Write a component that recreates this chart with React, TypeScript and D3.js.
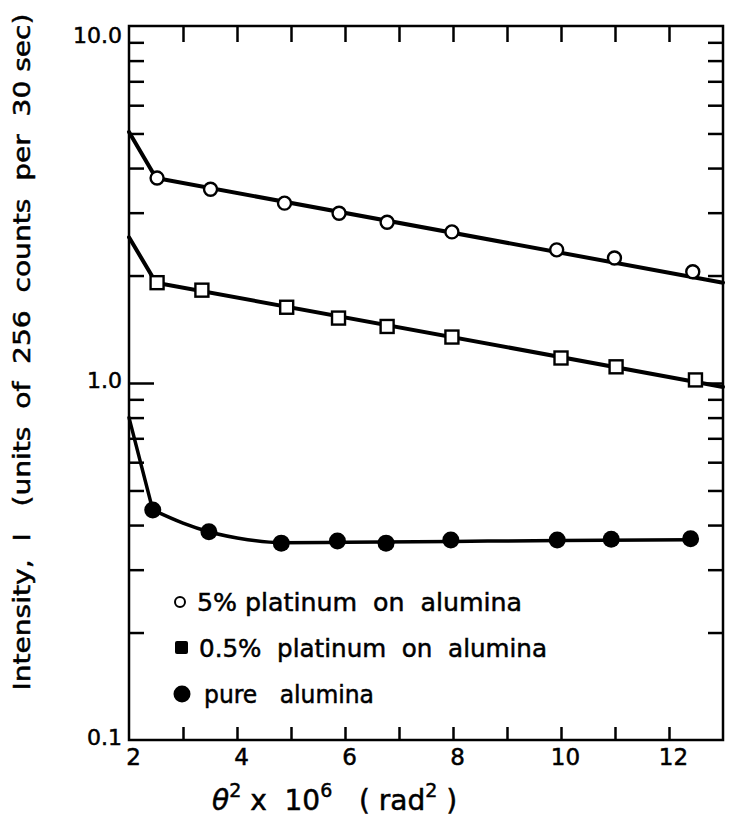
import React, { useEffect, useRef } from 'react';
import * as d3 from 'd3';

// 5% platinum on alumina (open circles)
const xPt5 = [2.52, 3.51, 4.88, 5.89, 6.78, 7.98, 9.92, 10.99, 12.44];
const yPt5 = [3.75, 3.49, 3.19, 2.99, 2.82, 2.65, 2.36, 2.24, 2.05];
const xPt5Line = [2, 2.5, 13];
const yPt5Line = [5.05, 3.75, 1.91];

// 0.5% platinum on alumina (open squares)
const xPt05 = [2.52, 3.35, 4.92, 5.88, 6.78, 7.98, 10.0, 11.02, 12.49];
const yPt05 = [1.91, 1.82, 1.63, 1.52, 1.44, 1.345, 1.175, 1.11, 1.02];
const xPt05Line = [2, 2.5, 13];
const yPt05Line = [2.56, 1.91, 0.975];

// pure alumina (filled circles)
const xPure = [2.44, 3.48, 4.82, 5.86, 6.76, 7.96, 9.93, 10.93, 12.4];
const yPure = [0.441, 0.383, 0.356, 0.361, 0.356, 0.363, 0.363, 0.365, 0.366];
const xPureHead = [2, 2.44];
const yPureHead = [0.8, 0.441];
const xPureTail = [2.44, 3.0, 3.48, 4.2, 4.82, 6, 8, 10, 12.4];
const yPureTail = [0.441, 0.405, 0.383, 0.364, 0.357, 0.358, 0.36, 0.362, 0.364];

const xTickLabels = [2, 4, 6, 8, 10, 12];
const xTickAll = [3, 4, 5, 6, 7, 8, 9, 10, 11, 12];
const yMajor = [0.1, 1, 10];

const legendLabels = [
  '5% platinum  on  alumina',
  '0.5%  platinum  on  alumina',
  'pure   alumina',
];

const font = "'DejaVu Sans', sans-serif";

export default function App() {
  const svgRef = useRef<SVGSVGElement>(null);

  useEffect(() => {
    if (!svgRef.current) return;
    const svg = d3.select(svgRef.current);
    svg.selectAll('*').remove();

    const left = 129, right = 723, top = 26, bottom = 740;
    const x = d3.scaleLinear().domain([2, 13]).range([left, right]);
    const y = d3.scaleLog().domain([0.1, 10]).range([bottom, top]);

    const g = svg.append('g');

    // frame
    g.append('rect')
      .attr('x', left).attr('y', top)
      .attr('width', right - left).attr('height', bottom - top)
      .attr('fill', 'none').attr('stroke', '#000').attr('stroke-width', 2.5);

    const minor = y.ticks().filter(v => !yMajor.some(m => Math.abs(m - v) < 1e-9));

    const styleAxis = (sel: any) => {
      sel.select('.domain').remove();
      sel.selectAll('line').attr('stroke', '#000').attr('stroke-width', 2.5);
      sel.selectAll('text')
        .attr('fill', '#000')
        .attr('stroke', '#000').attr('stroke-width', 0.5)
        .style('font-family', font);
    };

    // left axis
    g.append('g').attr('transform', `translate(${left},0)`)
      .call(d3.axisLeft(y).tickValues(minor).tickSize(-15).tickFormat(() => ''))
      .call(styleAxis);
    g.append('g').attr('transform', `translate(${left},0)`)
      .call(d3.axisLeft(y).tickValues([1]).tickSize(-25).tickFormat(() => ''))
      .call(styleAxis);
    g.append('g').attr('transform', `translate(${left - 7},0)`)
      .call(d3.axisLeft(y).tickValues(yMajor).tickSize(0).tickPadding(0).tickFormat(d3.format('.1f')))
      .call(styleAxis)
      .selectAll('text').style('font-size', '22px').attr('dy', (d: any) => (d === 10 ? '0.75em' : '0.2em'));

    // right axis
    g.append('g').attr('transform', `translate(${right},0)`)
      .call(d3.axisRight(y).tickValues(minor).tickSize(-15).tickFormat(() => ''))
      .call(styleAxis);
    g.append('g').attr('transform', `translate(${right},0)`)
      .call(d3.axisRight(y).tickValues([1]).tickSize(-25).tickFormat(() => ''))
      .call(styleAxis);

    // bottom axis
    g.append('g').attr('transform', `translate(0,${bottom})`)
      .call(d3.axisBottom(x).tickValues(xTickAll).tickSize(-13).tickFormat(() => ''))
      .call(styleAxis);
    g.append('g').attr('transform', `translate(0,${bottom})`)
      .call(d3.axisBottom(x).tickValues(xTickLabels).tickSize(0).tickPadding(9).tickFormat(d3.format('d')))
      .call(styleAxis)
      .selectAll('text').style('font-size', '23px').attr('dx', 4);

    // top axis
    g.append('g').attr('transform', `translate(0,${top})`)
      .call(d3.axisTop(x).tickValues(xTickAll).tickSize(-16).tickFormat(() => ''))
      .call(styleAxis);

    // lines
    const line = (xs: number[], ys: number[], curve: any) =>
      d3.line<number>().x((_, i) => x(xs[i])).y((_, i) => y(ys[i])).curve(curve)(xs);

    const drawLine = (d: string | null, w: number) =>
      g.append('path').attr('d', d).attr('fill', 'none')
        .attr('stroke', '#000').attr('stroke-width', w)
        .attr('stroke-linejoin', 'round').attr('stroke-linecap', 'round');

    drawLine(line(xPt5Line, yPt5Line, d3.curveLinear), 4);
    drawLine(line(xPt05Line, yPt05Line, d3.curveLinear), 4);
    drawLine(line(xPureHead, yPureHead, d3.curveLinear), 3.5);
    drawLine(line(xPureTail, yPureTail, d3.curveMonotoneX), 3.5);

    // markers
    g.selectAll('.c5').data(xPt5).enter().append('circle')
      .attr('cx', d => x(d)).attr('cy', (_, i) => y(yPt5[i]))
      .attr('r', 6.5).attr('fill', '#fff').attr('stroke', '#000').attr('stroke-width', 2.4);

    g.selectAll('.s05').data(xPt05).enter().append('rect')
      .attr('x', d => x(d) - 6.5).attr('y', (_, i) => y(yPt05[i]) - 6.5)
      .attr('width', 13).attr('height', 13)
      .attr('fill', '#fff').attr('stroke', '#000').attr('stroke-width', 2.4);

    g.selectAll('.fp').data(xPure).enter().append('circle')
      .attr('cx', d => x(d)).attr('cy', (_, i) => y(yPure[i]))
      .attr('r', 8.5).attr('fill', '#000');

    // legend
    const lg = g.append('g');
    const rowY = [602, 648, 694];
    lg.append('circle').attr('cx', 180).attr('cy', rowY[0]).attr('r', 5)
      .attr('fill', '#fff').attr('stroke', '#000').attr('stroke-width', 2);
    lg.append('rect').attr('x', 175).attr('y', rowY[1] - 7).attr('width', 13).attr('height', 13)
      .attr('rx', 2).attr('fill', '#000');
    lg.append('circle').attr('cx', 182).attr('cy', rowY[2]).attr('r', 8.5).attr('fill', '#000');
    const widths = [325, 348, 170];
    const starts = [197, 199, 204];
    legendLabels.forEach((t, i) => {
      lg.append('text')
        .attr('x', starts[i]).attr('y', rowY[i] + 9)
        .attr('textLength', widths[i]).attr('lengthAdjust', 'spacingAndGlyphs')
        .attr('stroke', '#000').attr('stroke-width', 0.5)
        .style('font-family', font).style('font-size', '24px')
        .style('white-space', 'pre')
        .text(t);
    });

    // y axis title
    svg.append('text')
      .attr('transform', 'translate(30,352) rotate(-90)')
      .attr('text-anchor', 'middle')
      .attr('textLength', 677).attr('lengthAdjust', 'spacingAndGlyphs')
      .attr('stroke', '#000').attr('stroke-width', 0.5)
      .style('font-family', font).style('font-size', '23px')
      .style('white-space', 'pre')
      .text('Intensity,  I   (units  of  256  counts  per  30 sec)');

    // x axis title
    const xt = svg.append('text')
      .attr('x', 212).attr('y', 810)
      .attr('stroke', '#000').attr('stroke-width', 0.5)
      .style('font-family', font).style('font-size', '28px')
      .style('white-space', 'pre');
    xt.append('tspan').style('font-style', 'italic').text('θ');
    xt.append('tspan').attr('dy', -13).style('font-size', '19px').text('2');
    xt.append('tspan').attr('dy', 13).text(' x  10');
    xt.append('tspan').attr('dy', -13).style('font-size', '19px').text('6');
    xt.append('tspan').attr('dy', 13).text('   ( rad');
    xt.append('tspan').attr('dy', -13).style('font-size', '19px').text('2');
    xt.append('tspan').attr('dy', 13).text(' )');
  }, []);

  return (
    <svg
      ref={svgRef}
      width={736}
      height={817}
      style={{ position: 'absolute', left: 0, top: 0, background: '#fff' }}
    />
  );
}
